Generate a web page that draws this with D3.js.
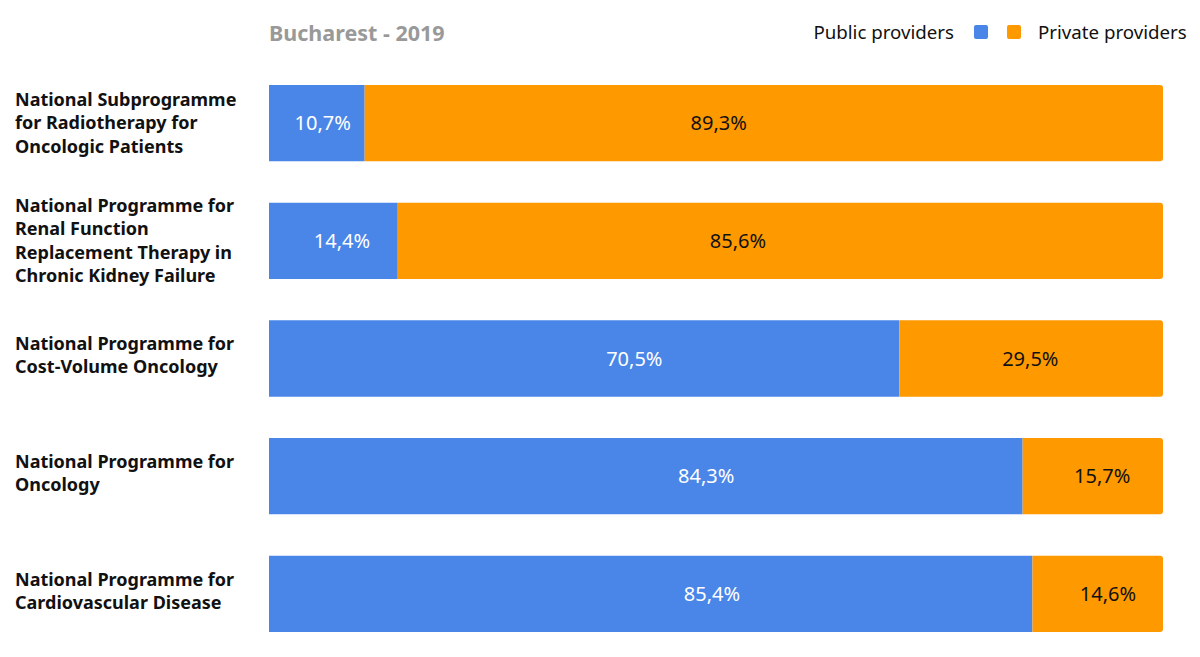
<!doctype html>
<html>
<head>
<meta charset="utf-8">
<title>Bucharest - 2019</title>
<style>
  body { margin: 0; background: #fff; font-family: 'Noto Sans', sans-serif; }
  .cat text { font-weight: 700; fill: #111; }
</style>
</head>
<body>
<div id="chart"></div>
<script src="https://cdnjs.cloudflare.com/ajax/libs/d3/7.8.5/d3.min.js"></script>
<script>
var categories = [
  "National Subprogramme\nfor Radiotherapy for\nOncologic Patients",
  "National Programme for\nRenal Function\nReplacement Therapy in\nChronic Kidney Failure",
  "National Programme for\nCost-Volume Oncology",
  "National Programme for\nOncology",
  "National Programme for\nCardiovascular Disease"
];
var publicShare = [10.7, 14.4, 70.5, 84.3, 85.4];
var privateShare = [89.3, 85.6, 29.5, 15.7, 14.6];
var seriesNames = ["Public providers", "Private providers"];
var colors = ["#4a86e8", "#ff9900"];
var title = "Bucharest - 2019";

var width = 1200, height = 657;
var margin = { top: 85, right: 37, bottom: 25, left: 269 };

var svg = d3.select("#chart").append("svg").attr("width", width).attr("height", height);

var rows = categories.map((c, i) => ({ cat: c, pub: publicShare[i], priv: privateShare[i] }));

var x = d3.scaleLinear([0, 100], [margin.left, width - margin.right]);
var y = d3.scaleBand(d3.range(categories.length), [margin.top, height - margin.bottom])
  .paddingInner(0.352).paddingOuter(0);
// value labels sit on their own scale (as in the original layout)
var labelX = d3.scaleLinear([0, 100], [267, 788]);
var labelGap = 396;

var fmt = v => d3.format(".1f")(v).replace(".", ",") + "%";

var stack = d3.stack().keys(["pub", "priv"]);
var layers = stack(rows);

var r = 3;
function barPath(x0, x1, y0, h, roundRight) {
  if (!roundRight) return `M${x0},${y0}H${x1}V${y0 + h}H${x0}Z`;
  return `M${x0},${y0}H${x1 - r}Q${x1},${y0} ${x1},${y0 + r}V${y0 + h - r}Q${x1},${y0 + h} ${x1 - r},${y0 + h}H${x0}Z`;
}

layers.forEach((layer, li) => {
  var g = svg.append("g");
  g.selectAll("path").data(layer).join("path")
    .attr("d", (d, i) => barPath(x(d[0]), x(d[1]), y(i), y.bandwidth(), li === 1))
    .attr("fill", colors[li]);
  g.selectAll("text").data(layer).join("text")
    .attr("x", d => labelX(d.data.pub) + (li === 1 ? labelGap : 0))
    .attr("y", (d, i) => y(i) + y.bandwidth() / 2)
    .attr("dy", "0.35em")
    .attr("text-anchor", "middle")
    .attr("font-size", 20)
    .attr("fill", li === 0 ? "#fff" : "#111")
    .text(d => fmt(d[1] - d[0]));
});

// category labels
var lh = 23.3;
var cat = svg.append("g").attr("class", "cat");
cat.selectAll("text").data(rows).join("text")
  .attr("x", 15)
  .attr("font-size", 18)
  .each(function (d, i) {
    var lines = d.cat.split("\n");
    var cy = y(i) + y.bandwidth() / 2 - (lines.length - 1) * lh / 2 - (lines.length === 2 ? 3 : 0);
    d3.select(this).selectAll("tspan").data(lines).join("tspan")
      .attr("x", 15)
      .attr("y", (l, j) => cy + j * lh)
      .attr("dy", "0.35em")
      .text(l => l);
  });

// title
svg.append("text")
  .attr("x", margin.left)
  .attr("y", 33)
  .attr("dy", "0.35em")
  .attr("font-size", 21.5)
  .attr("font-weight", 700)
  .attr("fill", "#999")
  .text(title);

// legend
var leg = svg.append("g");
leg.append("text").attr("x", 954).attr("y", 32).attr("dy", "0.35em")
  .attr("text-anchor", "end").attr("font-size", 18.7).attr("fill", "#111").text(seriesNames[0]);
leg.selectAll("rect").data(colors).join("rect")
  .attr("x", (d, i) => 974 + i * 33).attr("y", 25)
  .attr("width", 14).attr("height", 14).attr("rx", 2)
  .attr("fill", d => d);
leg.append("text").attr("x", 1038).attr("y", 32).attr("dy", "0.35em")
  .attr("font-size", 18.7).attr("fill", "#111").text(seriesNames[1]);
</script>
</body>
</html>
